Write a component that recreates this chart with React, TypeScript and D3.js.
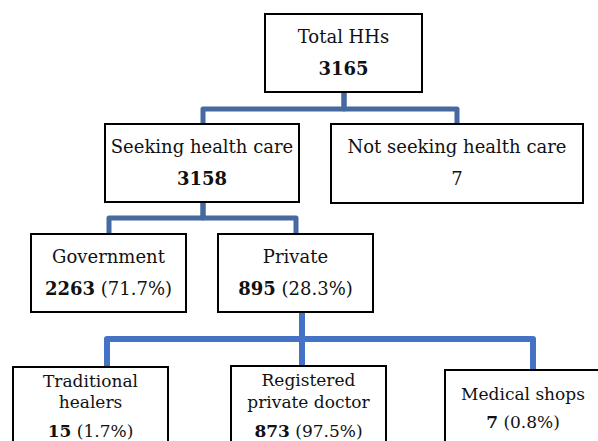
import React, { useEffect, useRef } from 'react';
import * as d3 from 'd3';

// tree data
const nodeIds = ['total', 'seeking', 'notSeeking', 'government', 'private', 'traditional', 'registered', 'medical'];
const nodeLabels = [
  ['Total HHs'],
  ['Seeking health care'],
  ['Not seeking health care'],
  ['Government'],
  ['Private'],
  ['Traditional', 'healers'],
  ['Registered', 'private doctor'],
  ['Medical shops'],
];
const nodeCounts = [3165, 3158, 7, 2263, 895, 15, 873, 7];
const nodePercents = [null, null, null, '71.7%', '28.3%', '1.7%', '97.5%', '0.8%'];
const boldCounts = [true, true, false, true, true, true, true, true];
const nodeParents = [null, 'total', 'total', 'seeking', 'seeking', 'private', 'private', 'private'];

const W = 598;
const H = 441;

// box geometry: x, y, w, h, connector x, font size, line baselines offset from top
const layout: Record<string, any> = {
  total: { x: 265, y: 14, w: 157, h: 78, ax: 344, fs: 18, base: [29, 61] },
  seeking: { x: 105, y: 124, w: 194, h: 78, ax: 203, fs: 18, base: [29, 61] },
  notSeeking: { x: 331, y: 124, w: 252, h: 79, ax: 457, fs: 18, base: [29, 61] },
  government: { x: 31, y: 234, w: 155, h: 78, ax: 109, fs: 18, base: [29, 61] },
  private: { x: 218, y: 234, w: 155, h: 78, ax: 296, down: 302, fs: 18, base: [29, 61] },
  traditional: { x: 13, y: 367, w: 155, h: 100, ax: 107, fs: 17, base: [20, 41, 70] },
  registered: { x: 231, y: 366, w: 155, h: 100, ax: 302, fs: 17, base: [20, 42, 71] },
  medical: { x: 445, y: 370, w: 175, h: 100, ax: 533, fs: 17, base: [30, 58] },
};
const busY: Record<string, number> = { total: 109, seeking: 218, private: 339 };
const busStyle: Record<string, any> = {
  total: { color: '#46699f', width: 5 },
  seeking: { color: '#46699f', width: 5 },
  private: { color: '#4472c4', width: 6 },
};

export default function App() {
  const ref = useRef<SVGSVGElement>(null);

  useEffect(() => {
    const svg = d3.select(ref.current);
    svg.selectAll('*').remove();

    const line = d3.line<[number, number]>().x(d => d[0]).y(d => d[1]);

    // connectors
    nodeIds.forEach((id, i) => {
      const p = nodeParents[i];
      if (!p) return;
      const pl = layout[p];
      const cl = layout[id];
      const px = pl.down != null ? pl.down : pl.ax;
      const by = busY[p];
      const pts: [number, number][] = [
        [px, pl.y + pl.h],
        [px, by],
        [cl.ax, by],
        [cl.ax, cl.y],
      ];
      svg.append('path')
        .attr('d', line(pts))
        .attr('fill', 'none')
        .attr('stroke', busStyle[p].color)
        .attr('stroke-width', busStyle[p].width)
        .attr('stroke-linejoin', 'round');
    });

    // boxes
    const g = svg.append('g')
      .selectAll('g')
      .data(nodeIds)
      .join('g')
      .attr('transform', d => `translate(${layout[d].x},${layout[d].y})`);

    g.append('rect')
      .attr('width', d => layout[d].w)
      .attr('height', d => layout[d].h)
      .attr('fill', '#fff')
      .attr('stroke', '#000')
      .attr('stroke-width', 2);

    g.each(function (id, i) {
      const l = layout[id];
      const grp = d3.select(this);
      const cx = id === 'medical' ? 78 : l.w / 2;
      const labels = nodeLabels[i];
      labels.forEach((t, k) => {
        grp.append('text')
          .attr('x', cx)
          .attr('y', l.base[k])
          .attr('text-anchor', 'middle')
          .attr('font-family', 'DejaVu Serif')
          .attr('font-size', l.fs)
          .attr('fill', '#111')
          .text(t);
      });
      const vt = grp.append('text')
        .attr('x', cx)
        .attr('y', l.base[labels.length])
        .attr('text-anchor', 'middle')
        .attr('font-family', 'DejaVu Serif')
        .attr('font-size', l.fs)
        .attr('fill', '#111');
      vt.append('tspan')
        .attr('font-weight', boldCounts[i] ? 'bold' : 'normal')
        .text(String(nodeCounts[i]));
      if (nodePercents[i]) {
        vt.append('tspan').text(` (${nodePercents[i]})`);
      }
    });
  }, []);

  return (
    <svg
      ref={ref}
      width={W}
      height={H}
      style={{ position: 'absolute', left: 0, top: 0, background: '#fff' }}
    />
  );
}
